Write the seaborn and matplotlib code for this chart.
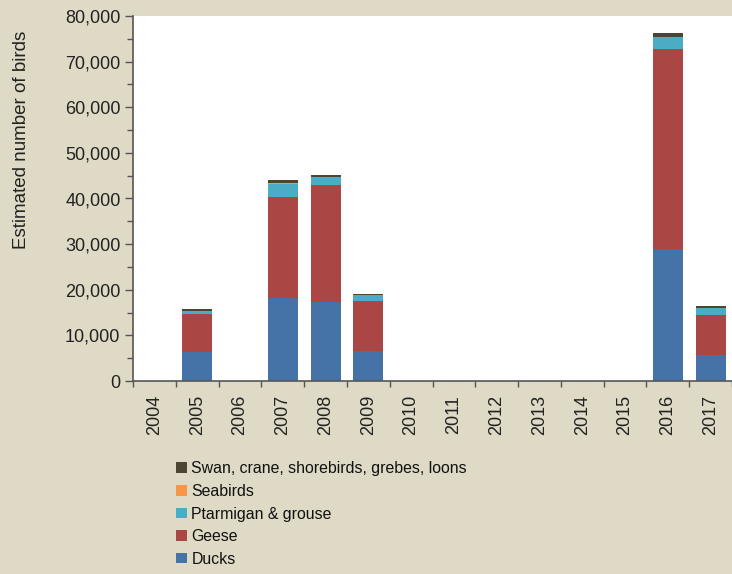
import pandas as pd
import matplotlib
matplotlib.use('Agg')
import matplotlib.pyplot as plt
import matplotlib.ticker as mticker
from matplotlib.patches import Patch
import seaborn as sns

# -----------------------------
# DATA
# -----------------------------

years = ['2004', '2005', '2006', '2007', '2008', '2009', '2010',
         '2011', '2012', '2013', '2014', '2015', '2016', '2017']

ducks = [0, 6400, 0, 18300, 17400, 6600, 0, 0, 0, 0, 0, 0, 28900, 5800]
geese = [0, 8200, 0, 22100, 25600, 11000, 0, 0, 0, 0, 0, 0, 43900, 8600]
ptarmigan = [0, 800, 0, 2800, 1800, 1200, 0, 0, 0, 0, 0, 0, 2700, 1600]
seabirds = [0, 0, 0, 300, 0, 0, 0, 0, 0, 0, 0, 0, 0, 0]
swan_etc = [0, 300, 0, 600, 300, 300, 0, 0, 0, 0, 0, 0, 700, 400]

series_names = ['Ducks', 'Geese', 'Ptarmigan & grouse', 'Seabirds',
                'Swan, crane, shorebirds, grebes, loons']
series_colors = ['#4572A7', '#AA4643', '#4BACC6', '#F79646', '#4A4630']

df = pd.DataFrame({
    'year': years,
    'Ducks': ducks,
    'Geese': geese,
    'Ptarmigan & grouse': ptarmigan,
    'Seabirds': seabirds,
    'Swan, crane, shorebirds, grebes, loons': swan_etc,
})

# cumulative totals for stacking
cum = df[series_names].cumsum(axis=1)
cum['year'] = df['year']

# -----------------------------
# PLOT
# -----------------------------

bg = '#DEDAC5'
sns.set_style('white')
plt.rcParams['font.family'] = ['Liberation Sans', 'DejaVu Sans']

fig = plt.figure(figsize=(7.32, 5.74), dpi=100, facecolor=bg)
ax = fig.add_axes([133 / 732, 1 - 381 / 574, 599 / 732, 365 / 574])
ax.set_facecolor('white')

# draw tallest cumulative first so lower layers sit on top
for name, color in reversed(list(zip(series_names, series_colors))):
    sns.barplot(x='year', y=name, data=cum, color=color, width=0.7,
                saturation=1, order=years, ax=ax, linewidth=0)

ax.set_ylim(0, 80000)
ax.set_xlim(-0.5, len(years) - 0.5)
ax.yaxis.set_major_locator(mticker.MultipleLocator(10000))
ax.yaxis.set_minor_locator(mticker.MultipleLocator(5000))
ax.yaxis.set_major_formatter(mticker.FuncFormatter(lambda v, p: f'{int(v):,}'))

ax.set_xticks(range(len(years)))
ax.set_xticklabels(years, rotation=90)
ax.set_xticks([i - 0.5 for i in range(len(years) + 1)], minor=True)

ax.tick_params(axis='y', which='major', direction='out', length=6, width=1,
               color='#555555', labelsize=13, colors='#222222', pad=3,
               left=True)
ax.tick_params(axis='y', which='minor', direction='out', length=4, width=1,
               color='#555555', left=True)
ax.tick_params(axis='x', which='major', length=0, labelsize=13,
               colors='#222222', pad=10)
ax.tick_params(axis='x', which='minor', direction='out', length=4, width=1,
               color='#555555', bottom=True)

for side in ['top', 'right']:
    ax.spines[side].set_visible(False)
for side in ['left', 'bottom']:
    ax.spines[side].set_color('#555555')
    ax.spines[side].set_linewidth(1.2)

ax.set_xlabel('')
ax.set_ylabel('Estimated number of birds', fontsize=13.5, color='#222222')
ax.yaxis.set_label_coords(-103 / 599, (381 - 140) / 365)

handles = [Patch(facecolor=c, edgecolor='none')
           for c in reversed(series_colors)]
fig.legend(handles, list(reversed(series_names)), loc='upper left',
           bbox_to_anchor=(170 / 732, 1 - 455 / 574), frameon=False,
           fontsize=11.4, handlelength=0.65, handleheight=0.65,
           handletextpad=0.3, labelspacing=0.48, borderaxespad=0,
           labelcolor='#111111')

fig.savefig('out.png', dpi=100, facecolor=bg)
plt.close(fig)
